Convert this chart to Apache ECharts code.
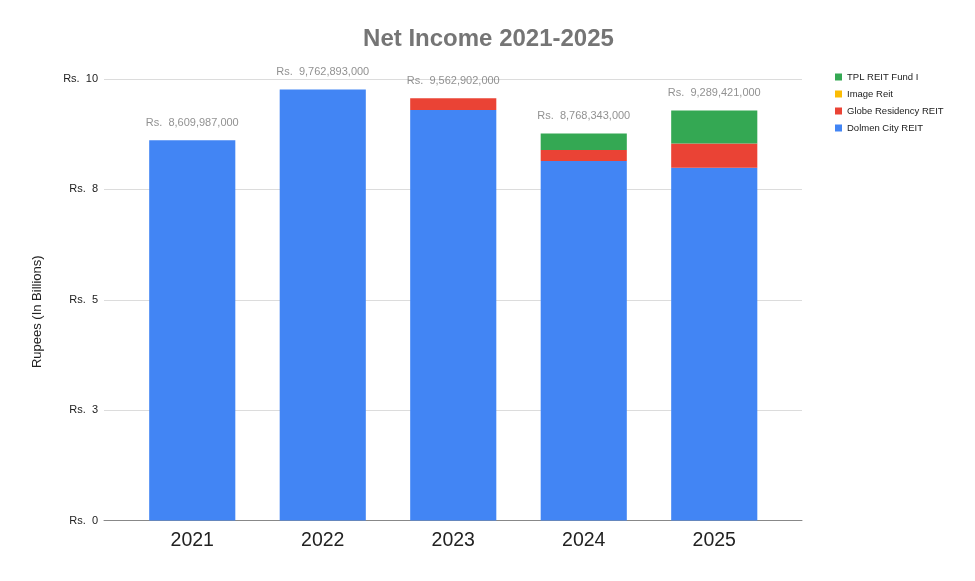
<!DOCTYPE html>
<html>
<head>
<meta charset="utf-8">
<script src="https://cdn.jsdelivr.net/npm/echarts@6/dist/echarts.min.js"></script>
<style>html,body{margin:0;padding:0;background:#fff;}#c{width:975px;height:581px;}</style>
</head>
<body>
<div id="c"></div>
<script>
const categories = ['2021', '2022', '2023', '2024', '2025'];
const dolmenCity = [8.609987, 9.762893, 9.30, 8.14, 7.99];
const globeResidency = [0, 0, 0.263, 0.25, 0.55];
const imageReit = [0, 0, 0, 0, 0];
const tplReit = [0, 0, 0, 0.378, 0.749];
const totals = [8609987000, 9762893000, 9562902000, 8768343000, 9289421000];
const yTickValues = [0, 2.5, 5, 7.5, 10];
const yTickLabels = ['Rs.  0', 'Rs.  3', 'Rs.  5', 'Rs.  8', 'Rs.  10'];

const FONT = 'Liberation Sans, Arial, sans-serif';
const chart = echarts.init(document.getElementById('c'), null, {renderer: 'canvas'});
const gridTop = 79, gridBottom = 581 - 520.5;

chart.setOption({
  animation: false,
  backgroundColor: '#fff',
  textStyle: {fontFamily: FONT},
  title: {
    text: 'Net Income 2021-2025',
    left: 488.5, top: 27, textAlign: 'center', padding: 0,
    textStyle: {fontFamily: FONT, fontSize: 24, fontWeight: 'bold', color: '#757575'}
  },
  legend: {
    orient: 'vertical', left: 830, top: 67,
    itemWidth: 7, itemHeight: 7, itemGap: 7, icon: 'rect',
    data: ['TPL REIT Fund I', 'Image Reit', 'Globe Residency REIT', 'Dolmen City REIT'],
    textStyle: {fontFamily: FONT, fontSize: 9.5, color: '#222'}
  },
  grid: [
    {left: 104, right: 173, top: gridTop, bottom: gridBottom},
    {left: 127, right: 195.5, top: gridTop, bottom: gridBottom}
  ],
  xAxis: [
    {gridIndex: 0, type: 'value', min: 0, max: 1, axisLabel: {show: false}, axisTick: {show: false},
     splitLine: {show: false}, axisLine: {show: true, onZero: false, lineStyle: {color: '#888', width: 1}}},
    {gridIndex: 1, type: 'category', data: categories, axisTick: {show: false},
     axisLine: {show: false},
     axisLabel: {fontFamily: FONT, fontSize: 19.5, color: '#222', margin: 10}}
  ],
  yAxis: [
    {gridIndex: 0, type: 'value', min: 0, max: 10, interval: 2.5,
     name: 'Rupees (In Billions)', nameLocation: 'middle', nameGap: 60,
     nameTextStyle: {fontFamily: FONT, fontSize: 13, color: '#222', padding: [0, 24, 0, 0]},
     axisLine: {show: false}, axisTick: {show: false},
     axisLabel: {fontFamily: FONT, fontSize: 11, color: '#222', margin: 6,
       formatter: v => yTickLabels[yTickValues.indexOf(v)]},
     splitLine: {show: true, lineStyle: {color: '#dcdcdc', width: 1}}},
    {gridIndex: 1, type: 'value', min: 0, max: 10, interval: 2.5, show: false, splitLine: {show: false}}
  ],
  series: [
    {name: 'Dolmen City REIT', type: 'bar', stack: 'net', xAxisIndex: 1, yAxisIndex: 1,
     data: dolmenCity, barWidth: '66%', itemStyle: {color: '#4285F4'}},
    {name: 'Globe Residency REIT', type: 'bar', stack: 'net', xAxisIndex: 1, yAxisIndex: 1,
     data: globeResidency, itemStyle: {color: '#EA4335'}},
    {name: 'Image Reit', type: 'bar', stack: 'net', xAxisIndex: 1, yAxisIndex: 1,
     data: imageReit, itemStyle: {color: '#FBBC04'}},
    {name: 'TPL REIT Fund I', type: 'bar', stack: 'net', xAxisIndex: 1, yAxisIndex: 1,
     data: tplReit, itemStyle: {color: '#34A853'}},
    {name: 'totals', type: 'scatter', xAxisIndex: 1, yAxisIndex: 1,
     data: totals.map(t => t / 1e9), symbol: 'rect', symbolSize: 1,
     itemStyle: {color: 'rgba(0,0,0,0)'}, silent: true, z: 10,
     label: {show: true, position: 'top', distance: 11,
       fontFamily: FONT, fontSize: 11, color: '#757575',
       formatter: p => 'Rs.  ' + totals[p.dataIndex].toLocaleString('en-US')}}
  ]
});
</script>
</body>
</html>
